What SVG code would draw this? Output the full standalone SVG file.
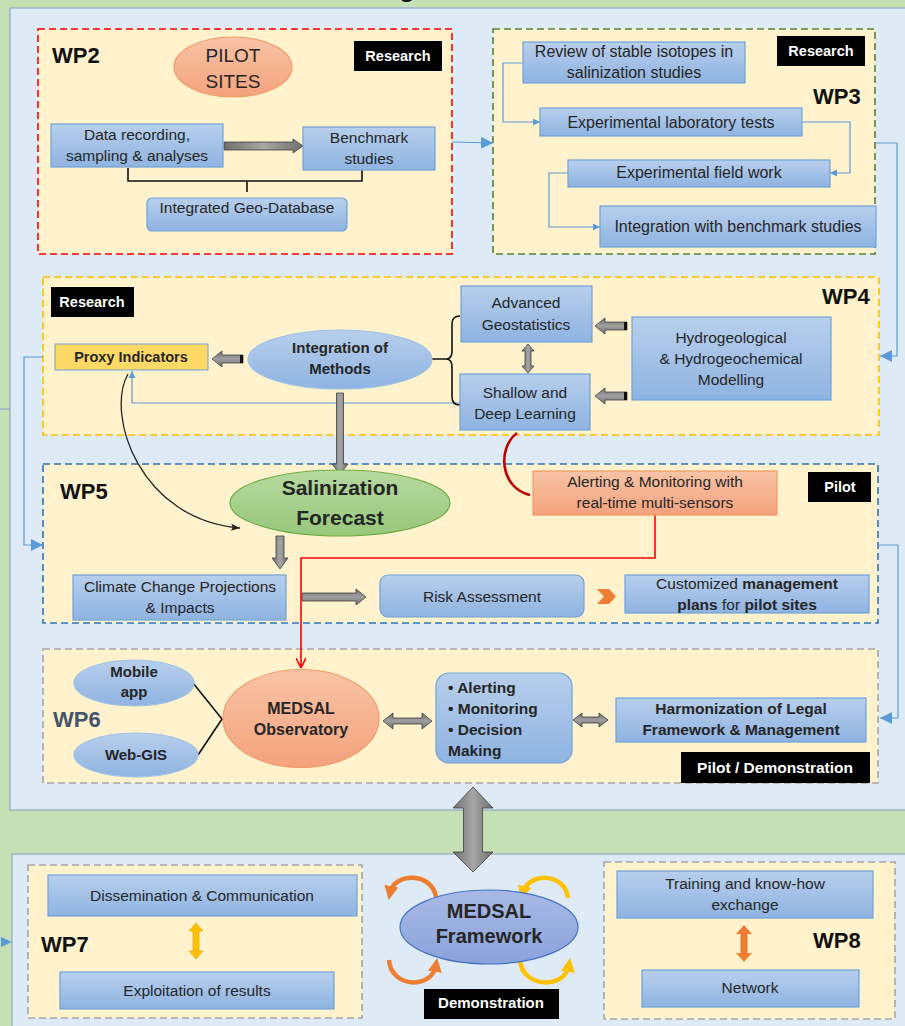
<svg xmlns="http://www.w3.org/2000/svg" width="905" height="1026" viewBox="0 0 905 1026">
<defs>
<linearGradient id="gBlue" x1="0" y1="0" x2="0" y2="1"><stop offset="0" stop-color="#b8cfec"/><stop offset="1" stop-color="#8fb3e1"/></linearGradient>
<linearGradient id="gSalmon" x1="0" y1="0" x2="0" y2="1"><stop offset="0" stop-color="#f8c4a6"/><stop offset="1" stop-color="#f4a27c"/></linearGradient>
<linearGradient id="gGreen" x1="0" y1="0" x2="0" y2="1"><stop offset="0" stop-color="#b7d9a0"/><stop offset="1" stop-color="#98c77b"/></linearGradient>
<linearGradient id="gFrame" x1="0" y1="0" x2="0" y2="1"><stop offset="0" stop-color="#a9b9e6"/><stop offset="1" stop-color="#8aa3da"/></linearGradient>
<linearGradient id="gGray" x1="0" y1="0" x2="1" y2="0"><stop offset="0" stop-color="#6f6f6f"/><stop offset="0.5" stop-color="#a6a6a6"/><stop offset="1" stop-color="#6f6f6f"/></linearGradient>
<linearGradient id="gGrayV" x1="0" y1="0" x2="0" y2="1"><stop offset="0" stop-color="#6f6f6f"/><stop offset="0.5" stop-color="#a0a0a0"/><stop offset="1" stop-color="#6f6f6f"/></linearGradient>
<marker id="mBlue" viewBox="0 0 10 10" refX="10" refY="5" markerWidth="7" markerHeight="7" markerUnits="userSpaceOnUse" orient="auto"><path d="M0,0 L10,5 L0,10 z" fill="#5b9bd5"/></marker>
<marker id="mBlueL" viewBox="0 0 10 10" refX="10" refY="5" markerWidth="12" markerHeight="12" markerUnits="userSpaceOnUse" orient="auto"><path d="M0,0 L10,5 L0,10 z" fill="#5b9bd5"/></marker>
<marker id="mBlack" viewBox="0 0 10 10" refX="10" refY="5" markerWidth="9" markerHeight="9" markerUnits="userSpaceOnUse" orient="auto"><path d="M0,1 L10,5 L0,9 L2,5 z" fill="#222"/></marker>
<marker id="mRed" viewBox="0 0 10 10" refX="10" refY="5" markerWidth="10" markerHeight="10" markerUnits="userSpaceOnUse" orient="auto"><path d="M0,0 L10,5 L0,10" fill="none" stroke="#ff0000" stroke-width="1.6"/></marker>
<marker id="mOrange" viewBox="0 0 10 10" refX="5" refY="5" markerWidth="14" markerHeight="14" markerUnits="userSpaceOnUse" orient="auto"><path d="M0,0 L10,5 L0,10 z" fill="#ed7d31"/></marker>
<marker id="mYellow" viewBox="0 0 10 10" refX="5" refY="5" markerWidth="14" markerHeight="14" markerUnits="userSpaceOnUse" orient="auto"><path d="M0,0 L10,5 L0,10 z" fill="#ffc000"/></marker>
</defs>
<style>
text{font-family:"Liberation Sans",Arial,sans-serif;fill:#262626}
.box{fill:url(#gBlue);stroke:#6fa3d8;stroke-width:1.2}
.ell{fill:url(#gBlue);stroke:#9dc3e6;stroke-width:1.2}
.sal{fill:url(#gSalmon);stroke:#f19c65;stroke-width:1.2}
.wp{fill:#fff2cc;stroke-width:1.6;stroke-dasharray:7 4}
.blk{fill:#000}
.wt{fill:#fff;font-weight:bold;font-size:14.5px}
.t{font-size:15.5px;text-anchor:middle}
.t16{font-size:16px}
.b{font-weight:bold}
.lbl{font-weight:bold;font-size:22px;fill:#111}
.conn{fill:none;stroke:#5b9bd5;stroke-width:1.2}
.ga{fill:url(#gGray);stroke:#404040;stroke-width:0.8}
.gv{fill:url(#gGrayV);stroke:#404040;stroke-width:0.8}
</style>
<rect x="0" y="0" width="905" height="1026" fill="#c5e0b4"/>
<text x="399" y="-3" class="b" style="font-size:26px;fill:#111">g</text>
<rect x="10" y="8" width="905" height="802" fill="#deebf7" stroke="#8fa9c8" stroke-width="1.2"/>
<rect x="12" y="854" width="905" height="190" fill="#deebf7" stroke="#8fa9c8" stroke-width="1.2"/>
<line x1="0" y1="409" x2="10" y2="409" stroke="#8fa9c8" stroke-width="1.2"/>

<!-- WP containers -->
<g id="wp2">
<rect x="38" y="29" width="414" height="225" class="wp" stroke="#ff0000"/>
<text x="52" y="63" class="lbl">WP2</text>
<rect x="354" y="41" width="88" height="30" class="blk"/><text x="398" y="61" class="wt" text-anchor="middle">Research</text>
</g>
<g id="wp3">
<rect x="493" y="29" width="382" height="225" class="wp" stroke="#548235"/>
<text x="813" y="104" class="lbl">WP3</text>
<rect x="777" y="36" width="88" height="30" class="blk"/><text x="821" y="56" class="wt" text-anchor="middle">Research</text>
</g>
<g id="wp4">
<rect x="43" y="277" width="836" height="158" class="wp" stroke="#ffc000"/>
<text x="822" y="304" class="lbl">WP4</text>
<rect x="51" y="287" width="83" height="30" class="blk"/><text x="92" y="307" class="wt" text-anchor="middle">Research</text>
</g>
<g id="wp5">
<rect x="43" y="464" width="835" height="159" class="wp" stroke="#2e75b6"/>
<text x="60" y="499" class="lbl">WP5</text>
<rect x="808" y="472" width="63" height="30" class="blk"/><text x="840" y="492" class="wt" text-anchor="middle">Pilot</text>
</g>
<g id="wp6">
<rect x="43" y="649" width="835" height="134" class="wp" stroke="#a6a6a6"/>
<text x="53" y="727" class="lbl" style="fill:#44546a">WP6</text>
<rect x="681" y="752" width="189" height="31" class="blk"/><text x="775" y="773" class="wt" text-anchor="middle" style="font-size:15.5px">Pilot / Demonstration</text>
</g>
<g id="wp7">
<rect x="28" y="865" width="334" height="153" class="wp" stroke="#a6a6a6"/>
<text x="41" y="952" class="lbl">WP7</text>
</g>
<g id="wp8">
<rect x="604" y="862" width="291" height="157" class="wp" stroke="#a6a6a6"/>
<text x="813" y="948" class="lbl">WP8</text>
</g>

<!-- connectors -->
<g id="connectors">
<line x1="452" y1="142" x2="493" y2="143" class="conn" marker-end="url(#mBlueL)"/>
<polyline points="523,63 503,63 503,122 540,122" class="conn" marker-end="url(#mBlue)"/>
<polyline points="802,122 850,122 850,173 830,173" class="conn" marker-end="url(#mBlue)"/>
<polyline points="568,173 549,173 549,227 600,227" class="conn" marker-end="url(#mBlue)"/>
<polyline points="875,143 897,143 897,356 880,356" class="conn" marker-end="url(#mBlueL)"/>
<polyline points="43,357 24,357 24,545 43,545" class="conn" marker-end="url(#mBlueL)"/>
<polyline points="878,545 898,545 898,718 880,718" class="conn" marker-end="url(#mBlueL)"/>
<polyline points="460,403 132,403 132,371" class="conn" marker-end="url(#mBlue)" stroke="#7fb0e0"/>
<polygon points="1,937 12,942 1,947" fill="#5b9bd5"/>
<!-- WP2 bracket -->
<path d="M128,168 L128,181 L362,181 L362,170 M247,181 L247,192" fill="none" stroke="#111" stroke-width="1.6"/>
<!-- WP2 block arrow -->
<polygon points="224,142 293,142 293,139 303,146 293,153 293,150 224,150" class="ga"/>
<!-- Integration -> Proxy -->
<polygon points="243,355 222,355 222,351 212,359 222,367 222,363 243,363" class="gv"/>
<rect x="240" y="355" width="3" height="8" fill="#111"/>
<!-- brace -->
<path d="M432,359 L446,359 M460,316 Q452,316 452,324 L452,351 Q452,359 446,359 Q452,359 452,367 L452,397 Q452,405 460,405" fill="none" stroke="#111" stroke-width="1.6"/>
<!-- Hydro arrows -->
<polygon points="627,322 605,322 605,318 595,326 605,334 605,330 627,330" class="gv"/>
<rect x="624" y="322" width="3" height="8" fill="#111"/>
<polygon points="627,392 605,392 605,388 595,396 605,404 605,400 627,400" class="gv"/>
<rect x="624" y="392" width="3" height="8" fill="#111"/>
<!-- vertical double arrow Adv/Shallow -->
<polygon points="528,344 534,351 531,351 531,366 534,366 528,373 522,366 525,366 525,351 522,351" class="ga"/>
<!-- Integration -> Salinization -->
<polygon points="336.5,393 343.5,393 343.5,464 348,464 340,474 332,464 336.5,464" class="ga"/>
<!-- Salinization -> Climate -->
<polygon points="276,536 284,536 284,558 288,558 280,569 272,558 276,558" class="ga"/>
<!-- Climate -> Risk -->
<polygon points="302,593 356,593 356,589 366,597 356,605 356,601 302,601" class="gv"/>
<!-- orange chevron -->
<polygon points="597,589 609,589 616,596.5 609,604 597,604 604,596.5" fill="#ed7d31"/>
<!-- curved black -->
<path d="M128,374 C105,415 140,520 240,528" fill="none" stroke="#222" stroke-width="1.3" marker-end="url(#mBlack)"/>
<!-- red curve -->
<path d="M517,433 C497,448 500,488 530,495" fill="none" stroke="#c00000" stroke-width="2.6"/>
<!-- red line -->
<polyline points="655,515 655,558 301,558 301,668" fill="none" stroke="#ff0000" stroke-width="1.6" marker-end="url(#mRed)"/>
<!-- WP6 lines -->
<path d="M193,683 L222,719 L198,755" fill="none" stroke="#111" stroke-width="1.6"/>
<!-- double arrows WP6 -->
<polygon points="383,721 393,713 393,718 422,718 422,713 432,721 422,729 422,724 393,724 393,729" class="gv"/>
<polygon points="573,720 582,713 582,717 599,717 599,713 608,720 599,727 599,723 582,723 582,727" class="gv"/>
<!-- big double arrow -->
<polygon points="473,787 493,808 482.5,808 482.5,852 493,852 473,872 453,852 463.5,852 463.5,808 453,808" class="ga"/>
<!-- WP7 / WP8 double arrows -->
<polygon points="196,923 203,931 199,931 199,951 203,951 196,959 189,951 193,951 193,931 189,931" fill="#ffc000" stroke="#d9a400" stroke-width="0.6"/>
<polygon points="744,925 752,934 747.5,934 747.5,953 752,953 744,962 736,953 740.5,953 740.5,934 736,934" fill="#ed7d31"/>
<!-- cycle arrows around framework -->
<path d="M436,897 C432,872 394,872 390,893" fill="none" stroke="#ed7d31" stroke-width="4.5" marker-end="url(#mOrange)"/>
<path d="M389,960 C391,988 432,990 436,965" fill="none" stroke="#ed7d31" stroke-width="4.5" marker-end="url(#mOrange)"/>
<path d="M568,898 C565,872 528,872 523,893" fill="none" stroke="#ffc000" stroke-width="4.5" marker-end="url(#mYellow)"/>
<path d="M520,960 C522,988 565,990 569,965" fill="none" stroke="#ffc000" stroke-width="4.5" marker-end="url(#mYellow)"/>
</g>

<!-- nodes -->
<g id="pilot-sites"><ellipse cx="233" cy="67" rx="59" ry="30" class="sal"/><text x="233" y="62" class="t" style="font-size:19px">PILOT</text><text x="233" y="88" class="t" style="font-size:19px">SITES</text></g>
<g id="data-recording"><rect x="51" y="124" width="172" height="43" class="box"/><text x="137" y="140" class="t">Data recording,</text><text x="137" y="161" class="t">sampling &amp; analyses</text></g>
<g id="benchmark"><rect x="303" y="127" width="132" height="43" class="box"/><text x="369" y="143" class="t">Benchmark</text><text x="369" y="164" class="t">studies</text></g>
<g id="geodb"><rect x="147" y="198" width="200" height="33" rx="5" class="box"/><text x="247" y="213" class="t">Integrated Geo-Database</text></g>

<g id="review"><rect x="523" y="42" width="222" height="41" class="box"/><text x="634" y="57" class="t t16">Review of stable isotopes in</text><text x="634" y="78" class="t t16">salinization studies</text></g>
<g id="lab"><rect x="540" y="108" width="262" height="28" class="box"/><text x="671" y="128" class="t t16">Experimental laboratory tests</text></g>
<g id="field"><rect x="568" y="160" width="262" height="27" class="box"/><text x="699" y="178" class="t t16">Experimental field work</text></g>
<g id="integration-bench"><rect x="600" y="206" width="276" height="41" class="box"/><text x="738" y="232" class="t t16">Integration with benchmark studies</text></g>

<g id="proxy"><rect x="55" y="344" width="153" height="26" fill="#ffd966" stroke="#6fa3d8" stroke-width="1"/><text x="131" y="362" class="t b" style="font-size:14.5px">Proxy Indicators</text></g>
<g id="integration-methods"><ellipse cx="340" cy="359.5" rx="92" ry="29.5" class="ell"/><text x="340" y="353" class="t b" style="font-size:15px">Integration of</text><text x="340" y="374" class="t b" style="font-size:15px">Methods</text></g>
<g id="advanced"><rect x="461" y="286" width="131" height="56" class="box"/><text x="526" y="308" class="t">Advanced</text><text x="526" y="330" class="t">Geostatistics</text></g>
<g id="shallow"><rect x="460" y="374" width="130" height="56" class="box"/><text x="525" y="398" class="t">Shallow and</text><text x="525" y="419" class="t">Deep Learning</text></g>
<g id="hydro"><rect x="632" y="317" width="199" height="83" class="box"/><text x="731" y="343" class="t">Hydrogeological</text><text x="731" y="364" class="t">&amp; Hydrogeochemical</text><text x="731" y="385" class="t">Modelling</text></g>

<g id="salinization"><ellipse cx="340" cy="503" rx="110" ry="33" fill="url(#gGreen)" stroke="#70ad47" stroke-width="1.2"/><text x="340" y="495" class="t b" style="font-size:21px">Salinization</text><text x="340" y="525" class="t b" style="font-size:21px">Forecast</text></g>
<g id="alerting"><rect x="533" y="471" width="244" height="44" class="sal"/><text x="655" y="487" class="t">Alerting &amp; Monitoring with</text><text x="655" y="508" class="t">real-time multi-sensors</text></g>
<g id="climate"><rect x="73" y="575" width="213" height="45" class="box"/><text x="180" y="592" class="t">Climate Change  Projections</text><text x="180" y="613" class="t">&amp; Impacts</text></g>
<g id="risk"><rect x="380" y="575" width="204" height="42" rx="8" class="box"/><text x="482" y="602" class="t">Risk Assessment</text></g>
<g id="customized"><rect x="625" y="575" width="244" height="38" class="box"/><text x="747" y="589" class="t">Customized  <tspan class="b">management</tspan></text><text x="747" y="610" class="t"><tspan class="b">plans</tspan> for <tspan class="b">pilot sites</tspan></text></g>

<g id="mobile"><ellipse cx="134" cy="683" rx="60" ry="23" class="ell"/><text x="134" y="677" class="t b" style="font-size:15px">Mobile</text><text x="134" y="697" class="t b" style="font-size:15px">app</text></g>
<g id="webgis"><ellipse cx="136" cy="755" rx="62" ry="22" class="ell"/><text x="136" y="760" class="t b" style="font-size:15px">Web-GIS</text></g>
<g id="observatory"><ellipse cx="301" cy="718.5" rx="78" ry="49" class="sal"/><text x="301" y="714" class="t b" style="font-size:16px">MEDSAL</text><text x="301" y="735" class="t b" style="font-size:16px">Observatory</text></g>
<g id="alert-list"><rect x="436" y="673" width="136" height="90" rx="13" class="box"/><text x="448" y="693" class="b" style="font-size:15.5px">• Alerting</text><text x="448" y="714" class="b" style="font-size:15.5px">• Monitoring</text><text x="448" y="735" class="b" style="font-size:15.5px">• Decision</text><text x="448" y="756" class="b" style="font-size:15.5px">Making</text></g>
<g id="harmonization"><rect x="616" y="698" width="250" height="44" class="box"/><text x="741" y="714" class="t b" style="font-size:15.5px">Harmonization  of Legal</text><text x="741" y="735" class="t b" style="font-size:15.5px">Framework &amp; Management</text></g>

<g id="dissemination"><rect x="48" y="875" width="309" height="41" class="box"/><text x="202" y="901" class="t">Dissemination &amp; Communication</text></g>
<g id="exploitation"><rect x="60" y="972" width="274" height="37" class="box"/><text x="197" y="996" class="t">Exploitation of results</text></g>
<g id="framework"><ellipse cx="489" cy="927" rx="89" ry="37" fill="url(#gFrame)" stroke="#4472c4" stroke-width="1.2"/><text x="489" y="918" class="t b" style="font-size:20px">MEDSAL</text><text x="489" y="943" class="t b" style="font-size:20px">Framework</text></g>
<g id="demonstration"><rect x="424" y="989" width="135" height="30" class="blk"/><text x="491" y="1008" class="wt" text-anchor="middle" style="font-size:15px">Demonstration</text></g>
<g id="training"><rect x="617" y="871" width="256" height="47" class="box"/><text x="745" y="889" class="t">Training and know-how</text><text x="745" y="910" class="t">exchange</text></g>
<g id="network"><rect x="642" y="970" width="217" height="37" class="box"/><text x="750" y="993" class="t">Network</text></g>
</svg>
